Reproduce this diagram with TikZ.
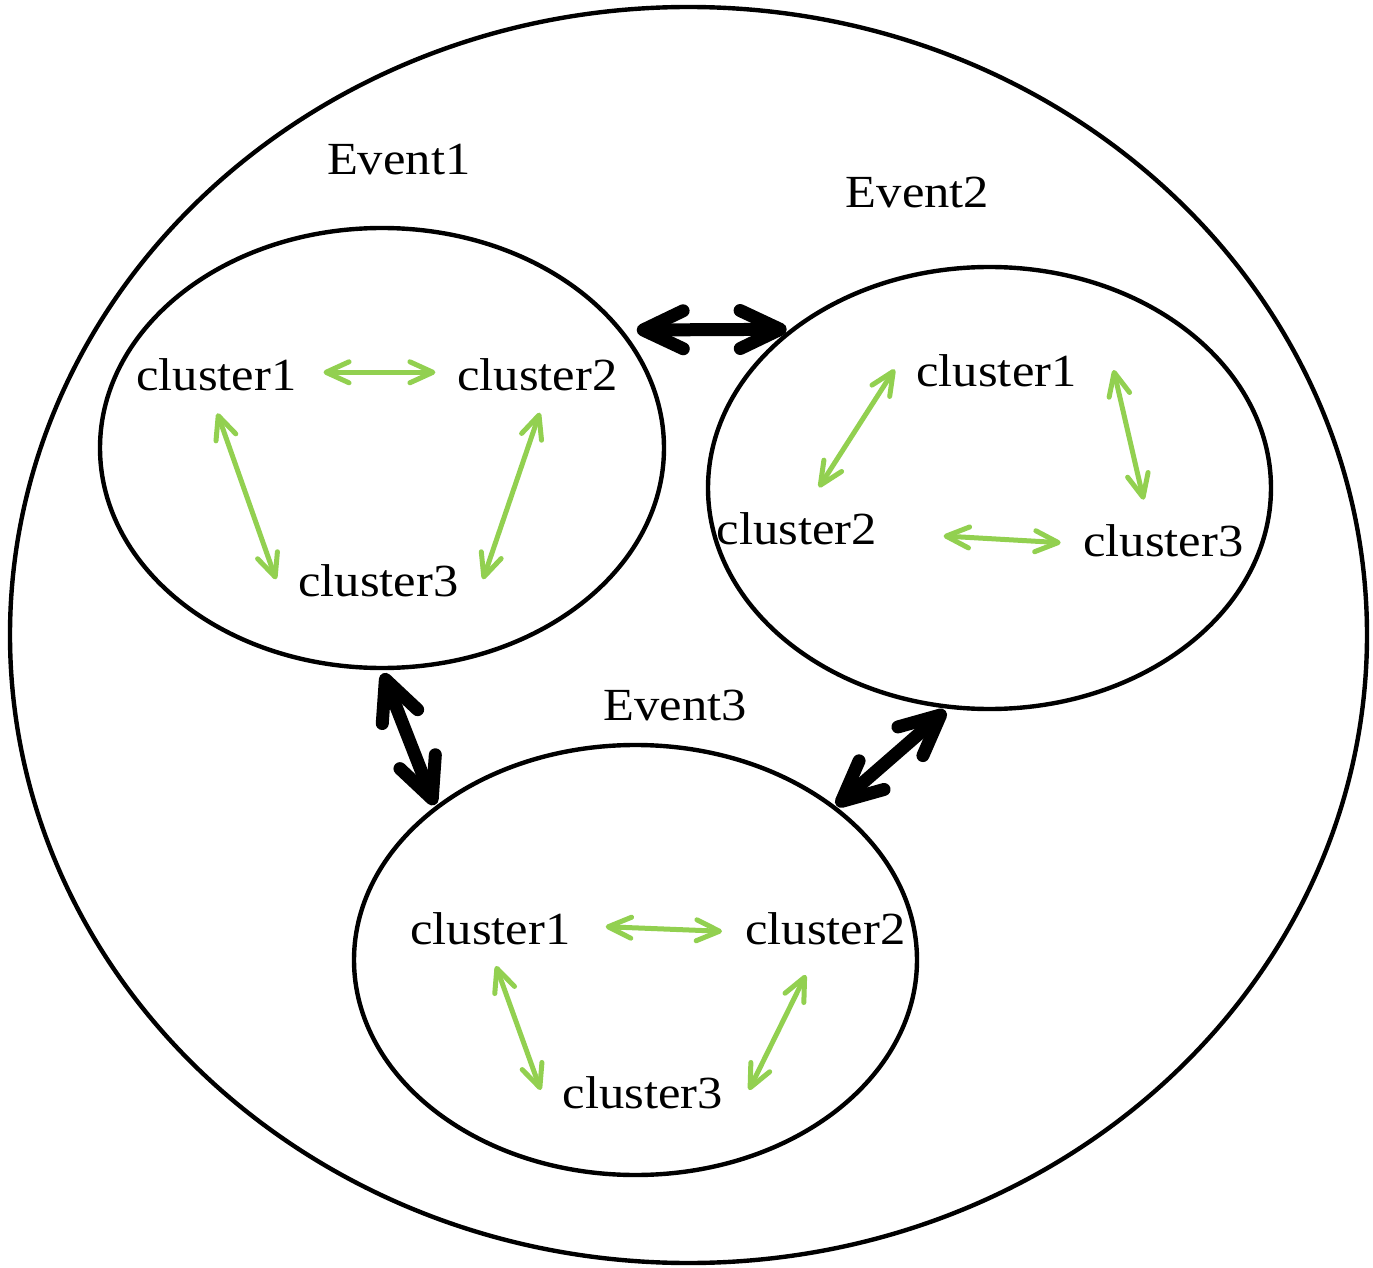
\documentclass[tikz,border=0pt]{standalone}
\usepackage{fontspec}
\setmainfont[FakeStretch=1.1]{Liberation Serif}
\usetikzlibrary{arrows.meta,shapes.geometric}
\definecolor{lgreen}{HTML}{92D050}
\begin{document}
\begin{tikzpicture}[x=0.5pt,y=-0.5pt,
  ev/.style={draw,ellipse,line width=2.2pt,inner sep=0pt},
  lbl/.style={font=\fontsize{23}{27}\selectfont,inner sep=0pt,anchor=base},
  gtip/.tip={Straight Barb[length=11.5pt,width=10.5pt,line cap=round,line join=round]},
  btip/.tip={Straight Barb[length=20pt,width=19pt,line cap=round,line join=round]},
  garrow/.style={draw=lgreen,line width=2.5pt,line cap=round,gtip-gtip},
  barrow/.style={draw=black,line width=6.5pt,line cap=round,btip-btip}]
\useasboundingbox (0,0) rectangle (1373,1268);

% ellipses
\node[ev,minimum width=678.5pt,minimum height=628pt] (outer) at (688.5,635) {};
\node[ev,minimum width=282pt,minimum height=220pt] (ev1) at (382,448) {};
\node[ev,minimum width=281.5pt,minimum height=221pt] (ev2) at (989.5,488) {};
\node[ev,minimum width=281.5pt,minimum height=215pt] (ev3) at (635.5,960) {};

% event titles
\node[lbl] (t1) at (398.7,175) {Event1};
\node[lbl] (t2) at (917.5,207.3) {Event2};
\node[lbl] (t3) at (675.4,720) {Event3};

% cluster labels
\node[lbl] (e1c1) at (216.3,390.7) {cluster1};
\node[lbl] (e1c2) at (537.5,390.7) {cluster2};
\node[lbl] (e1c3) at (378.3,596.7) {cluster3};
\node[lbl] (e2c1) at (996.5,386.7) {cluster1};
\node[lbl] (e2c2) at (796.8,544) {cluster2};
\node[lbl] (e2c3) at (1163.3,556) {cluster3};
\node[lbl] (e3c1) at (490.4,944.3) {cluster1};
\node[lbl] (e3c2) at (825.4,944.3) {cluster2};
\node[lbl] (e3c3) at (643,1108.3) {cluster3};

% connector end points
\coordinate (a1) at (323.5,372.3);  \coordinate (b1) at (435.4,372.3);
\coordinate (a2) at (217.4,413.3);  \coordinate (b2) at (276,579.3);
\coordinate (a3) at (539.8,412.7);  \coordinate (b3) at (483,579.3);
\coordinate (a4) at (894.6,369.3);  \coordinate (b4) at (819,487.3);
\coordinate (a5) at (1113.6,370);   \coordinate (b5) at (1143.6,499.7);
\coordinate (a6) at (943.6,536);    \coordinate (b6) at (1060.7,542.7);
\coordinate (a7) at (605.7,926.7);  \coordinate (b7) at (722,931.3);
\coordinate (a8) at (496,966);      \coordinate (b8) at (540.7,1090);
\coordinate (a9) at (805.7,975);    \coordinate (b9) at (749,1090);
\coordinate (k1) at (636.7,330);    \coordinate (l1) at (786.7,329.3);
\coordinate (k2) at (383,673.3);    \coordinate (l2) at (434.6,805);
\coordinate (k3) at (945.5,710.7);  \coordinate (l3) at (836.5,805.7);

% green arrows
\draw[garrow] (a1) -- (b1);
\draw[garrow] (a2) -- (b2);
\draw[garrow] (a3) -- (b3);
\draw[garrow] (a4) -- (b4);
\draw[garrow] (a5) -- (b5);
\draw[garrow] (a6) -- (b6);
\draw[garrow] (a7) -- (b7);
\draw[garrow] (a8) -- (b8);
\draw[garrow] (a9) -- (b9);

% black arrows
\draw[barrow] (k1) -- (l1);
\draw[barrow] (k2) -- (l2);
\draw[barrow] (k3) -- (l3);
\end{tikzpicture}
\end{document}
